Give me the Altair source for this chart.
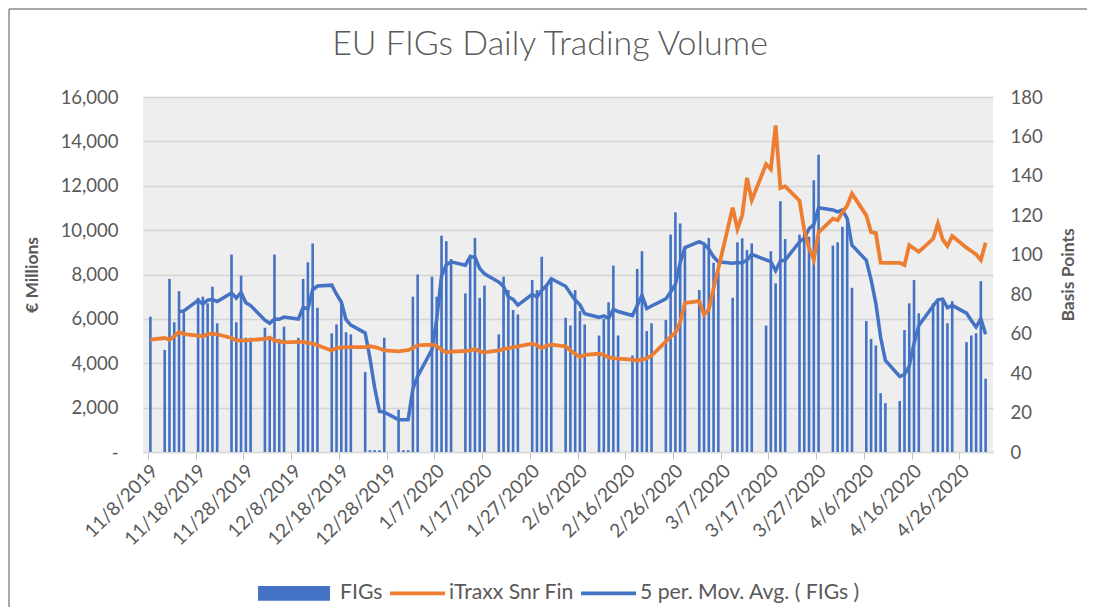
import altair as alt
import pandas as pd

# ---- data ----
dates = [
    "2019-11-08",
    "2019-11-11", "2019-11-12", "2019-11-13", "2019-11-14", "2019-11-15",
    "2019-11-18", "2019-11-19", "2019-11-20", "2019-11-21", "2019-11-22",
    "2019-11-25", "2019-11-26", "2019-11-27", "2019-11-28", "2019-11-29",
    "2019-12-02", "2019-12-03", "2019-12-04", "2019-12-05", "2019-12-06",
    "2019-12-09", "2019-12-10", "2019-12-11", "2019-12-12", "2019-12-13",
    "2019-12-16", "2019-12-17", "2019-12-18", "2019-12-19", "2019-12-20",
    "2019-12-23", "2019-12-24", "2019-12-25", "2019-12-26", "2019-12-27",
    "2019-12-30", "2019-12-31", "2020-01-01", "2020-01-02", "2020-01-03",
    "2020-01-06", "2020-01-07", "2020-01-08", "2020-01-09", "2020-01-10",
    "2020-01-13", "2020-01-14", "2020-01-15", "2020-01-16", "2020-01-17",
    "2020-01-20", "2020-01-21", "2020-01-22", "2020-01-23", "2020-01-24",
    "2020-01-27", "2020-01-28", "2020-01-29", "2020-01-30", "2020-01-31",
    "2020-02-03", "2020-02-04", "2020-02-05", "2020-02-06", "2020-02-07",
    "2020-02-10", "2020-02-11", "2020-02-12", "2020-02-13", "2020-02-14",
    "2020-02-17", "2020-02-18", "2020-02-19", "2020-02-20", "2020-02-21",
    "2020-02-24", "2020-02-25", "2020-02-26", "2020-02-27", "2020-02-28",
    "2020-03-02", "2020-03-03", "2020-03-04", "2020-03-05", "2020-03-06",
    "2020-03-09", "2020-03-10", "2020-03-11", "2020-03-12", "2020-03-13",
    "2020-03-16", "2020-03-17", "2020-03-18", "2020-03-19", "2020-03-20",
    "2020-03-23", "2020-03-24", "2020-03-25", "2020-03-26", "2020-03-27",
    "2020-03-30", "2020-03-31", "2020-04-01", "2020-04-02", "2020-04-03",
    "2020-04-06", "2020-04-07", "2020-04-08", "2020-04-09", "2020-04-10",
    "2020-04-13", "2020-04-14", "2020-04-15", "2020-04-16", "2020-04-17",
    "2020-04-20", "2020-04-21", "2020-04-22", "2020-04-23", "2020-04-24",
    "2020-04-27", "2020-04-28", "2020-04-29", "2020-04-30", "2020-05-01",
]

figs = [
    6100,
    4600, 7800, 5850, 7250, 6300,
    6950, 7000, 6700, 7450, 5800,
    8900, 5850, 7950, 5150, 5150,
    5600, 5150, 8900, 5100, 5650,
    5150, 7800, 8550, 9400, 6500,
    5350, 5750, 6800, 5400, 5300,
    3600, 80, 80, 80, 5150,
    1900, 80, 80, 7000, 8000,
    7900, 7000, 9750, 9500, 8700,
    7150, 8900, 9650, 6950, 7500,
    5300, 7900, 7300, 6400, 6200,
    7750, 7300, 8800, 7450, 7750,
    6050, 5700, 7300, 6350, 5750,
    5250, 6000, 6750, 8400, 5250,
    4350, 8250, 9050, 5450, 5800,
    5950, 9800, 10800, 10300, 9200,
    7300, 9300, 9650, 8530, 8100,
    6950, 9450, 9630, 9100, 9400,
    5700, 9050, 7600, 11300, 9600,
    9800, 9900, 9700, 12250, 13400,
    9300, 9450, 10150, 10300, 7400,
    5900, 5100, 4800, 2650, 2200,
    2300, 5500, 6700, 7750, 6250,
    6700, 6900, 6850, 5800, 6800,
    4950, 5250, 5350, 7700, 3300,
]

itraxx = [
    57.0,
    57.8, 57.0, 58.6, 60.9, 59.8,
    59.0, 58.6, 59.8, 60.0, 59.7,
    57.8, 56.6, 56.6, 56.6, 56.8,
    57.3, 58.0, 56.6, 56.1, 55.6,
    55.8, 55.8, 55.3, 54.9, 54.1,
    51.5, 52.7, 53.1, 53.1, 53.2,
    53.2, 53.6, 53.2, 52.5, 51.5,
    51.0, 51.4, 51.6, 52.7, 54.1,
    54.4, 53.6, 51.9, 50.5, 50.9,
    51.2, 51.5, 52.2, 51.0, 50.5,
    51.5, 52.2, 52.7, 53.1, 53.6,
    54.9, 54.1, 52.7, 53.9, 54.4,
    53.6, 51.5, 49.8, 48.1, 49.3,
    49.8, 49.3, 48.0, 47.6, 47.3,
    46.8, 46.4, 46.8, 47.6, 48.8,
    56.0, 58.5, 60.3, 65.8, 75.6,
    76.5, 69.7, 72.2, 83.0, 93.0,
    123.9, 113.0, 120.0, 139.0, 127.7,
    145.9, 143.4, 165.6, 133.8, 134.7,
    127.5, 112.5, 103.5, 97.5, 111.3,
    118.3, 117.5, 121.5, 125.0, 131.0,
    120.0, 111.5, 111.0, 96.0, 95.9,
    95.9, 94.8, 104.9, 103.2, 101.5,
    108.1, 115.9, 107.8, 104.4, 109.5,
    103.6, 101.9, 100.2, 97.3, 106.1,
]

tick_dates = [
    "2019-11-08", "2019-11-18", "2019-11-28", "2019-12-08", "2019-12-18",
    "2019-12-28", "2020-01-07", "2020-01-17", "2020-01-27", "2020-02-06",
    "2020-02-16", "2020-02-26", "2020-03-07", "2020-03-17", "2020-03-27",
    "2020-04-06", "2020-04-16", "2020-04-26",
]
left_ticks = [0, 2000, 4000, 6000, 8000, 10000, 12000, 14000, 16000]
right_ticks = [0, 20, 40, 60, 80, 100, 120, 140, 160, 180]
series_names = ["FIGs", "iTraxx Snr Fin", "5 per. Mov. Avg. ( FIGs )"]
series_colors = ["#4472C4", "#ED7D31", "#4472C4"]

df = pd.DataFrame({
    "date": [d + "T12:00:00" for d in dates],
    "figs": figs,
    "itraxx": itraxx,
})


def dt(s):
    y, m, d = s.split("-")
    return alt.DateTime(year=int(y), month=int(m), date=int(d))


FONT = "Lato"
GREY = "#595959"

x_enc = alt.X(
    "date:T",
    title=None,
    scale=alt.Scale(domain=[dt("2019-11-08"), dt("2020-05-02")]),
    axis=alt.Axis(
        values=[dt(s) for s in tick_dates],
        format="%-m/%-d/%Y",
        labelAngle=315,
        labelFontSize=19,
        labelPadding=2,
        grid=False,
        domainColor="#d9d9d9",
        domainWidth=1.5,
        tickColor="#bfbfbf",
        tickSize=7,
        labelOverlap=False,
    ),
)

color_enc = alt.Color(
    "series:N",
    scale=alt.Scale(domain=series_names, range=series_colors),
    legend=alt.Legend(
        title=None,
        orient="none",
        direction="horizontal",
        legendX=131,
        legendY=465,
        padding=0,
        columnPadding=0,
        labelOffset=4,
        labelFontSize=21.2,
        labelFont=FONT,
        labelColor=GREY,
        labelLimit=400,
        symbolSize=3844,
        symbolStrokeWidth=0,
        symbolOpacity=1,
        symbolType=alt.ExprRef(
            "datum.value == 'FIGs' ? 'M-1.516,-0.24H0.806V0.24H-1.516Z' : 'M-0.774,-0.062H1V0.062H-0.774Z'"
        ),
    ),
)

left_y_scale = alt.Scale(domain=[0, 16000])
left_axis = alt.Axis(
    values=left_ticks,
    labelExpr="datum.value == 0 ? '-   ' : format(datum.value, ',')",
    grid=True,
    gridColor="#d4d4d4",
    gridWidth=1.5,
    domain=False,
    ticks=False,
    labelPadding=25,
    labelFontSize=18.5,
    titleX=-111,
    titleY=177.5,
    titleAngle=270,
    titleAlign="center",
    titleBaseline="middle",
    titleFontWeight="bold",
    titleFontSize=17.5,
)

base = alt.Chart(df)

bars = base.transform_calculate(series="'FIGs'").mark_bar(size=2.6).encode(
    x=x_enc,
    y=alt.Y("figs:Q", title="€ Millions", scale=left_y_scale, axis=left_axis),
    color=color_enc,
)

ma = (
    base.transform_window(
        ma="mean(figs)", cnt="count()", frame=[-4, 0], sort=[alt.SortField("date")]
    )
    .transform_filter("datum.cnt >= 5")
    .transform_calculate(series="'5 per. Mov. Avg. ( FIGs )'")
    .mark_line(strokeWidth=3.5)
    .encode(
        x=x_enc,
        y=alt.Y("ma:Q", title="€ Millions", scale=left_y_scale, axis=left_axis),
        color=color_enc,
    )
)

itraxx_line = base.transform_calculate(series="'iTraxx Snr Fin'").mark_line(strokeWidth=3.8).encode(
    x=x_enc,
    y=alt.Y(
        "itraxx:Q",
        title="Basis Points",
        scale=alt.Scale(domain=[0, 180]),
        axis=alt.Axis(
            orient="right",
            values=right_ticks,
            grid=False,
            domain=False,
            ticks=False,
            labelPadding=17,
            labelFontSize=18.5,
            titleX=75,
            titleY=177.5,
            titleAngle=270,
            titleAlign="center",
            titleBaseline="middle",
            titleFontWeight="bold",
            titleFontSize=17.5,
        ),
    ),
    color=color_enc,
)

frame_src = alt.Chart(alt.Data(values=[{"k": 1}]))
frame_left = frame_src.mark_rule(color="#8c8c8c", strokeWidth=1.5).encode(
    x=alt.value(-134), y=alt.value(-88), y2=alt.value(520)
)
frame_top = frame_src.mark_rule(color="#8c8c8c", strokeWidth=1.5).encode(
    x=alt.value(-134), x2=alt.value(950), y=alt.value(-88)
)

chart = (
    alt.layer(alt.layer(bars, ma), itraxx_line, frame_left, frame_top)
    .resolve_scale(y="independent")
    .properties(
        width=850,
        height=355,
        padding={"left": 135, "top": 89, "right": 94, "bottom": 155},
        autosize=alt.AutoSizeParams(type="none"),
        title=alt.TitleParams(
            "EU FIGs Daily Trading Volume",
            fontSize=34,
            font=FONT,
            fontWeight=300,
            color=GREY,
            anchor="middle",
            dx=-18,
            offset=0,
            dy=54,
        ),
    )
    .configure(background="white")
    .configure_view(fill="#eeeeee", stroke=None)
    .configure_axis(
        labelFont=FONT,
        titleFont=FONT,
        labelColor=GREY,
        titleColor=GREY,
    )
)

chart.save("out.html", embed_options={"renderer": "svg", "actions": False})
